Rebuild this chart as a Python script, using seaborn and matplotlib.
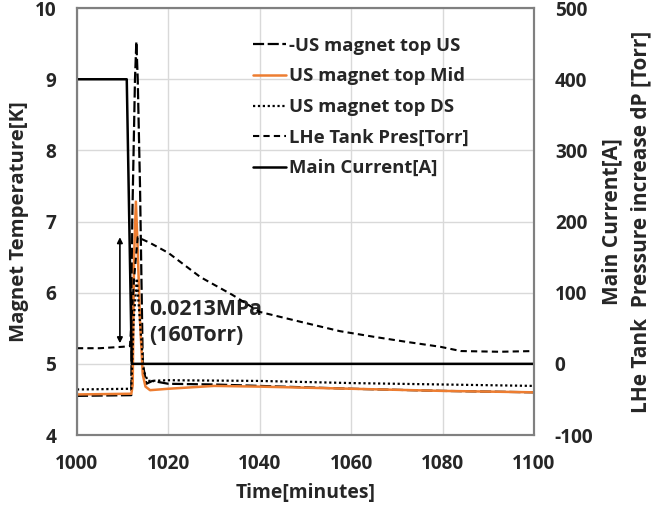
import matplotlib
matplotlib.use("Agg")
import matplotlib.pyplot as plt
import seaborn as sns

sns.set_theme(style="white")
plt.rcParams["font.family"] = ["Open Sans", "DejaVu Sans"]
plt.rcParams["font.weight"] = "bold"
plt.rcParams["axes.labelweight"] = "bold"
plt.rcParams["axes.unicode_minus"] = False

# --- data ---
t_us = [1000, 1011.9, 1012.1, 1012.7, 1013.0, 1013.3, 1013.8, 1014.4, 1015.2, 1016.5,
        1020, 1030, 1040, 1060, 1080, 1100]
temp_us = [4.55, 4.56, 7.0, 9.0, 9.53, 9.0, 7.5, 5.0, 4.72, 4.76,
           4.72, 4.71, 4.69, 4.65, 4.62, 4.60]

t_mid = [1000, 1011.9, 1012.2, 1012.5, 1012.9, 1013.3, 1013.8, 1014.4, 1015.0, 1016.0,
         1020, 1030, 1040, 1060, 1080, 1100]
temp_mid = [4.57, 4.58, 4.7, 6.5, 7.28, 6.6, 5.6, 4.85, 4.68, 4.63,
            4.65, 4.69, 4.68, 4.65, 4.62, 4.60]

t_ds = [1000, 1011.9, 1012.4, 1013.1, 1013.9, 1014.6, 1015.5, 1020, 1040, 1060, 1080, 1100]
temp_ds = [4.64, 4.65, 5.6, 6.2, 5.5, 4.9, 4.76, 4.77, 4.76, 4.73, 4.71, 4.69]

t_pres = [1000, 1005, 1010, 1011.6, 1012.5, 1013.3, 1016, 1020, 1027, 1034, 1040,
          1049, 1057.5, 1065, 1072, 1079.5, 1084, 1092.5, 1100]
pres = [22, 22, 24, 25, 120, 178, 170, 156, 122, 97, 73,
        59, 46, 38, 31, 24, 18, 17, 18]

t_cur = [1000, 1010.9, 1012.0, 1100]
current = [400, 400, 0, 0]

# arrow marking the pressure rise
arrow_x = 1009.4
arrow_lo, arrow_hi = 29, 178

fig, ax = plt.subplots(figsize=(6.52, 5.07), dpi=100)
fig.subplots_adjust(left=0.118, right=0.819, top=0.984, bottom=0.142)
ax2 = ax.twinx()

orange = "#ED7D31"
sns.lineplot(x=t_us, y=temp_us, ax=ax, color="black", lw=1.6,
             linestyle=(0, (5, 1.6)), label="-US magnet top US", sort=False)
sns.lineplot(x=t_mid, y=temp_mid, ax=ax, color=orange, lw=1.8,
             label="US magnet top Mid", sort=False)
sns.lineplot(x=t_ds, y=temp_ds, ax=ax, color="black", lw=1.6,
             linestyle=(0, (1, 1.2)), label="US magnet top DS", sort=False)
sns.lineplot(x=t_pres, y=pres, ax=ax2, color="black", lw=1.5,
             linestyle=(0, (3, 2)), label="LHe Tank Pres[Torr]", sort=False)
sns.lineplot(x=t_cur, y=current, ax=ax2, color="black", lw=1.8,
             label="Main Current[A]", sort=False)

ax2.annotate("", xy=(arrow_x, arrow_hi), xytext=(arrow_x, arrow_lo),
             arrowprops=dict(arrowstyle="<|-|>", color="black", lw=1.2,
                             mutation_scale=8, shrinkA=0, shrinkB=0))
ax.text(1015.8, 5.58, "0.0213MPa\n(160Torr)", fontsize=15.3, fontweight="bold",
        va="center", ha="left", linespacing=1.3)

ax.set_xlim(1000, 1100)
ax.set_ylim(4, 10)
ax2.set_ylim(-100, 500)
ax.set_xticks(range(1000, 1101, 20))
ax.set_yticks(range(4, 11))
ax2.set_yticks(range(-100, 501, 100))

ax.grid(True, color="#d9d9d9", lw=1)
ax.set_axisbelow(True)
for a in (ax, ax2):
    for s in a.spines.values():
        s.set_color("#808080")
        s.set_linewidth(1.5)
    a.tick_params(length=0, labelsize=13.7)
    for lbl in a.get_xticklabels() + a.get_yticklabels():
        lbl.set_fontweight("bold")
ax.tick_params(axis="y", pad=15)
ax.tick_params(axis="x", pad=14)
ax2.tick_params(axis="y", pad=15)

ax.set_xlabel("Time[minutes]", fontsize=13.9, labelpad=6)
ax.set_ylabel("Magnet Temperature[K]", fontsize=14.6, labelpad=4)
ax2.set_ylabel("Main Current[A]\nLHe Tank  Pressure increase dP [Torr]",
               fontsize=15, labelpad=6, linespacing=1.45)

h1, l1 = ax.get_legend_handles_labels()
h2, l2 = ax2.get_legend_handles_labels()
ax.get_legend().remove()
ax2.get_legend().remove()
ax2.legend(h1 + h2, l1 + l2, loc="upper left", bbox_to_anchor=(0.37, 0.95),
           frameon=False, prop={"size": 13.3, "weight": "bold"}, handlelength=1.75,
           handletextpad=0.2, labelspacing=0.68, borderaxespad=0)

fig.savefig("out.png", dpi=100)
